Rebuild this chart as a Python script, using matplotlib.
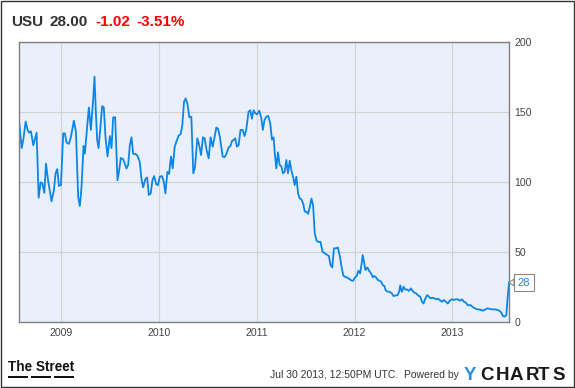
import matplotlib.pyplot as plt
from matplotlib.patches import Rectangle

# USU weekly close (x = decimal year)
years = [
    2008.571, 2008.595, 2008.612, 2008.636, 2008.656, 2008.670, 2008.690, 2008.714, 2008.748, 2008.769,
    2008.789, 2008.806, 2008.827, 2008.844, 2008.867, 2008.901, 2008.925, 2008.942, 2008.959, 2008.976,
    2008.997, 2009.020, 2009.037, 2009.054, 2009.078, 2009.099, 2009.129, 2009.150, 2009.173, 2009.190,
    2009.207, 2009.228, 2009.241, 2009.265, 2009.282, 2009.303, 2009.327, 2009.340, 2009.354, 2009.367,
    2009.381, 2009.398, 2009.418, 2009.435, 2009.452, 2009.473, 2009.497, 2009.514, 2009.531, 2009.551,
    2009.575, 2009.592, 2009.609, 2009.633, 2009.667, 2009.684, 2009.701, 2009.718, 2009.735, 2009.759,
    2009.779, 2009.803, 2009.820, 2009.837, 2009.861, 2009.878, 2009.895, 2009.915, 2009.932, 2009.949,
    2009.973, 2009.990, 2010.007, 2010.031, 2010.048, 2010.065, 2010.085, 2010.102, 2010.122, 2010.139,
    2010.160, 2010.184, 2010.201, 2010.221, 2010.238, 2010.255, 2010.272, 2010.289, 2010.310, 2010.330,
    2010.350, 2010.367, 2010.391, 2010.408, 2010.429, 2010.449, 2010.466, 2010.486, 2010.507, 2010.527,
    2010.548, 2010.568, 2010.585, 2010.602, 2010.622, 2010.650, 2010.670, 2010.690, 2010.711, 2010.731,
    2010.745, 2010.765, 2010.779, 2010.796, 2010.813, 2010.833, 2010.854, 2010.874, 2010.891, 2010.915,
    2010.932, 2010.949, 2010.966, 2010.983, 2011.000, 2011.024, 2011.044, 2011.061, 2011.078,
    2011.096, 2011.116, 2011.137, 2011.154, 2011.171, 2011.185, 2011.199, 2011.216, 2011.233, 2011.250,
    2011.267, 2011.284, 2011.301, 2011.318, 2011.336, 2011.353, 2011.370, 2011.387, 2011.404, 2011.421,
    2011.438, 2011.455, 2011.473, 2011.490, 2011.507, 2011.524, 2011.541, 2011.558, 2011.575, 2011.592,
    2011.610, 2011.627, 2011.651, 2011.671, 2011.695, 2011.719, 2011.736, 2011.753, 2011.771, 2011.788,
    2011.808, 2011.829, 2011.849, 2011.866, 2011.884, 2011.901, 2011.918, 2011.935, 2011.952, 2011.969,
    2011.986, 2012.003, 2012.021, 2012.038, 2012.055, 2012.072, 2012.082, 2012.096, 2012.110, 2012.130,
    2012.147, 2012.168, 2012.185, 2012.202, 2012.219, 2012.236, 2012.253, 2012.271, 2012.288, 2012.305,
    2012.315, 2012.336, 2012.356, 2012.380, 2012.397, 2012.418, 2012.438, 2012.455, 2012.466, 2012.483,
    2012.500, 2012.517, 2012.534, 2012.555, 2012.575, 2012.592, 2012.610, 2012.630, 2012.651, 2012.671,
    2012.688, 2012.705, 2012.719, 2012.740, 2012.760, 2012.774, 2012.795, 2012.815, 2012.836, 2012.856,
    2012.877, 2012.894, 2012.911, 2012.932, 2012.952, 2012.973, 2012.993, 2013.014, 2013.034, 2013.055,
    2013.075, 2013.096, 2013.116, 2013.137, 2013.158, 2013.185, 2013.212, 2013.233, 2013.253, 2013.274,
    2013.295, 2013.315, 2013.336, 2013.356, 2013.377, 2013.397, 2013.418, 2013.438, 2013.459, 2013.479,
    2013.500, 2013.517, 2013.534, 2013.551, 2013.565, 2013.578,
]
prices = [
    141.7, 124, 130, 143, 137, 135, 136, 126, 135, 88.6,
    99.5, 99, 92, 113, 100, 86, 94, 106, 109, 97,
    97.6, 134.5, 134.5, 128, 127, 132, 143.6, 135.7, 89, 82.6,
    96, 125.5, 120, 139, 153, 137, 159.5, 175, 149, 130,
    124, 137, 154, 153, 132, 118, 132.6, 124, 146, 146,
    101, 108, 117, 116, 109.5, 112, 126, 131.7, 120, 119.8,
    118.6, 114, 102, 96, 102, 103, 90.5, 91.7, 101, 104,
    98, 97.6, 103.6, 104, 100, 91.7, 107, 105.5, 118, 109.5,
    125, 130, 133, 134, 140.5, 157, 159.5, 156, 146, 146.4,
    106, 110, 131, 127, 119, 131.7, 131, 122.6, 116.7, 131.7,
    125, 132, 138.6, 138, 132, 118, 117.6, 120, 124.5, 125.5,
    129, 130, 131, 125, 126, 137, 137, 132.6, 137, 150,
    151, 145, 151, 149, 148, 150.7, 146, 137, 144,
    146.4, 147, 141.7, 130, 131.7, 119, 109.5, 121, 112, 111,
    106, 107, 115.5, 106, 115, 108, 103.6, 97.6, 103.6, 91.7,
    88, 87.4, 84.5, 78.6, 78.6, 77, 82, 88, 83, 63,
    58, 57, 57, 50, 48.8, 47.6, 47, 40.5, 38.8, 52.4,
    52.4, 53, 46.4, 39, 33, 32, 31.7, 31, 30.2, 29.3,
    29.3, 31.7, 32.6, 36.4, 34.5, 41.7, 47.6, 42.8, 36.9, 38.8,
    36.4, 34.5, 31.7, 32.6, 31.7, 29.8, 29.3, 28.6, 26, 25.5,
    22.6, 21.4, 21.4, 20.2, 18.3, 18.8, 18.8, 21.4, 26, 21.4,
    25, 23, 23, 22, 23.8, 22, 20.7, 20.2, 18.6, 17.9,
    14.3, 13, 16, 19, 17.9, 16.7, 17.1, 16.7, 16, 16.4,
    15, 14.3, 15.5, 14.3, 13, 15, 16, 15.5, 16, 16,
    15, 16, 14.3, 13.6, 11.7, 11.9, 10.2, 9.5, 8.8, 8.8,
    8.3, 7.9, 8.8, 9.5, 9.3, 8.8, 8.8, 8.8, 8.3, 7.9,
    6.4, 4, 3.6, 4.8, 17.9, 28,
]

year_ticks = [2009, 2010, 2011, 2012, 2013]
price_ticks = [0, 50, 100, 150, 200]

ticker = "USU"
last_price = "28.00"
change = "-1.02"
change_pct = "-3.51%"
stamp = "Jul 30 2013, 12:50PM UTC.  Powered by"

W, H = 575, 388


def px(x, y):
    return x / W, 1 - y / H


def main():
    plt.rcParams["font.family"] = ["Liberation Sans", "DejaVu Sans"]
    fig = plt.figure(figsize=(W / 100, H / 100), dpi=100)

    ax = fig.add_axes([19.3 / W, 1 - 321.7 / H, 489.7 / W, 280 / H])
    ax.set_facecolor("#eaf0fb")
    ax.plot(years, prices, color="#0c86e6", lw=1.3, solid_joinstyle="round")

    ax.set_xlim(2008.571, 2013.578)
    ax.set_ylim(0, 200)
    ax.set_xticks(year_ticks)
    ax.set_xticklabels([str(y) for y in year_ticks])
    ax.set_yticks(price_ticks)
    ax.yaxis.tick_right()
    ax.tick_params(axis="both", length=0, labelsize=7.6, labelcolor="#444444")
    ax.tick_params(axis="x", pad=4.5)
    ax.tick_params(axis="y", pad=3.8)
    ax.grid(True, color="#d3d3d3", lw=0.9)
    ax.set_axisbelow(True)
    for s in ax.spines.values():
        s.set_color("#808080")
        s.set_linewidth(1.0)

    # last value callout
    ax.annotate(f"{prices[-1]:.0f}", xy=(1, prices[-1]),
                xycoords=("axes fraction", "data"),
                xytext=(10.8, 0), textcoords="offset points",
                ha="center", va="center", color="#1a87e6", fontsize=8,
                bbox=dict(boxstyle="square,pad=0.3", fc="white", ec="#888888", lw=0.8),
                arrowprops=dict(arrowstyle="wedge,tail_width=0.6", fc="white",
                                ec="#888888", lw=0.8, shrinkA=0, shrinkB=0),
                annotation_clip=False)

    # header
    fig.text(*px(11, 26), ticker, fontsize=11, weight="bold", color="#333333", va="baseline")
    fig.text(*px(50, 26), last_price, fontsize=11, weight="bold", color="#333333", va="baseline")
    fig.text(*px(95, 26), change, fontsize=11, weight="bold", color="#ff0000", va="baseline")
    fig.text(*px(136, 26), change_pct, fontsize=11, weight="bold", color="#ff0000", va="baseline")

    # footer: The Street logo, fitted to its width in the reference
    street = fig.text(*px(8, 371), "The Street", fontsize=13, weight="bold",
                      color="#111111", va="baseline", stretch="condensed",
                      family=["Noto Sans Condensed", "Liberation Sans Narrow",
                              "Liberation Sans"])
    r = fig.canvas.get_renderer()
    wpx = street.get_window_extent(r).width
    street.set_fontsize(13 * 66 / wpx)
    for x0 in (8, 31, 54):
        fig.add_artist(Rectangle(px(x0, 378), 20 / W, 2 / H, transform=fig.transFigure,
                                 fc="#111111", ec="none"))
    fig.text(*px(459, 378), stamp, fontsize=7.5, color="#333333", ha="right", va="baseline")
    fig.text(*px(464, 380), "Y", fontsize=13.5, weight="bold", color="#2b8fe3", va="baseline")
    for ch, x0 in zip("CHARTS", (480, 496, 509.5, 526, 538, 552)):
        fig.text(*px(x0, 380), ch, fontsize=13.5, weight="bold", color="#1a1a1a",
                 va="baseline")

    # outer frame
    fig.add_artist(Rectangle((0.5 / W, 1 - 386.5 / H), 573.5 / W, 386 / H,
                             transform=fig.transFigure, fill=False, ec="#333333", lw=1))

    fig.savefig("out.png", dpi=100)
    plt.close(fig)


if __name__ == "__main__":
    main()
